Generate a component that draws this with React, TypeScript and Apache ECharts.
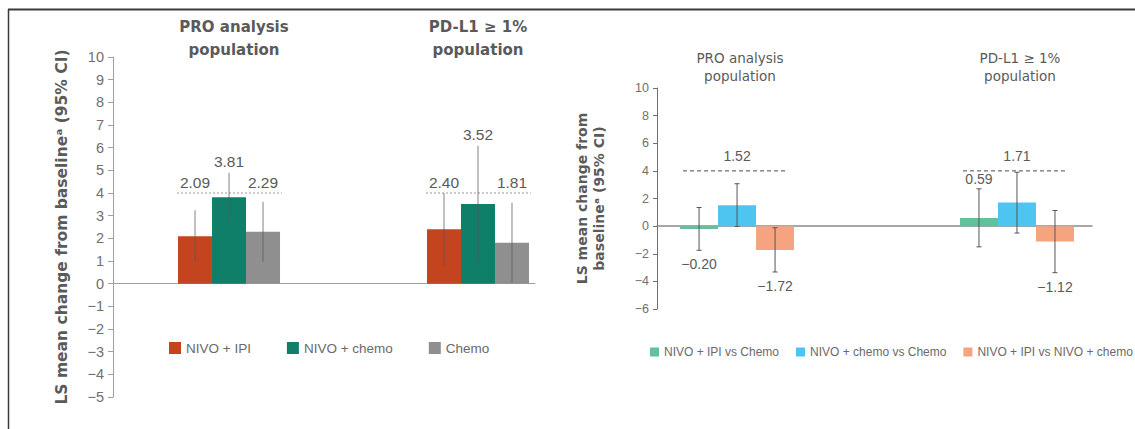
import React, { useEffect, useRef } from "react";
import * as echarts from "echarts";

// Population groups shown in both panels
const groupTitles = ["PRO analysis\npopulation", "PD-L1 ≥ 1%\npopulation"];

// Left panel: LS mean change from baseline per arm (one value per group)
const armNames = ["NIVO + IPI", "NIVO + chemo", "Chemo"];
const armColors = ["#C4441F", "#0F7F69", "#8F8F8F"];
const armMeans = [
  [2.09, 2.4],
  [3.81, 3.52],
  [2.29, 1.81],
];
const armLow = [
  [0.94, 0.8],
  [2.73, 0.96],
  [0.97, 0.05],
];
const armHigh = [
  [3.24, 4.0],
  [4.89, 6.08],
  [3.61, 3.57],
];

// Right panel: between-arm differences
const diffNames = ["NIVO + IPI vs Chemo", "NIVO + chemo vs Chemo", "NIVO + IPI vs NIVO + chemo"];
const diffColors = ["#62C19D", "#4EC4F1", "#F6A47F"];
const diffMeans = [
  [-0.2, 0.59],
  [1.52, 1.71],
  [-1.72, -1.12],
];
const diffLow = [
  [-1.75, -1.5],
  [-0.03, -0.5],
  [-3.32, -3.37],
];
const diffHigh = [
  [1.35, 2.7],
  [3.07, 3.9],
  [-0.12, 1.13],
];

// Meaningful-change threshold drawn as a dashed line
const threshold = 4;

const leftTicks = { min: -5, max: 10, interval: 1 };
const rightTicks = { min: -6, max: 10, interval: 2 };

const minus = (s: string) => s.replace(/-/g, "\u2212");
const fmt = (v: number) => minus(v.toFixed(2));

type BarOpts = {
  slot: number;
  barW: number;
  color: string;
  errColor: string;
  cap: number;
  aboveLine: boolean;
  labelSize: number;
  gapAbove: number;
  gapBelow: number;
};

function barRenderer(o: BarOpts) {
  return (params: any, api: any) => {
    const g = api.value(0);
    const v = api.value(1);
    const lo = api.value(2);
    const hi = api.value(3);
    const [cx, y0] = api.coord([g, 0]);
    const yv = api.coord([g, v])[1];
    const yLo = api.coord([g, lo])[1];
    const yHi = api.coord([g, hi])[1];
    const yLine = api.coord([g, threshold])[1];
    const left = cx - 1.5 * o.barW + o.slot * o.barW;
    const mid = left + o.barW / 2;
    const children: any[] = [
      {
        type: "rect",
        shape: { x: left, y: Math.min(y0, yv), width: o.barW, height: Math.abs(yv - y0) },
        style: { fill: o.color },
      },
      {
        type: "line",
        shape: { x1: mid, y1: yLo, x2: mid, y2: yHi },
        style: { stroke: o.errColor, lineWidth: 1 },
      },
    ];
    if (o.cap > 0) {
      [yLo, yHi].forEach((yy) =>
        children.push({
          type: "line",
          shape: { x1: mid - o.cap, y1: yy, x2: mid + o.cap, y2: yy },
          style: { stroke: o.errColor, lineWidth: 1 },
        })
      );
    }
    let ty: number;
    let va: string;
    if (v >= 0) {
      const anchor = o.aboveLine ? Math.min(yHi, yLine) : yHi;
      ty = anchor - o.gapAbove;
      va = "bottom";
    } else {
      ty = yLo + o.gapBelow;
      va = "top";
    }
    children.push({
      type: "text",
      x: mid,
      y: ty,
      style: {
        text: fmt(v),
        fill: "#5A5A5A",
        font: `${o.labelSize}px "Liberation Sans", Arial, sans-serif`,
        align: "center",
        verticalAlign: va,
      },
    });
    return { type: "group", children };
  };
}

function lineRenderer(barW: number, dash: number[], color: string, padL: number, padR: number) {
  return (params: any, api: any) => {
    const g = api.value(0);
    const [cx, y] = api.coord([g, threshold]);
    return {
      type: "line",
      shape: { x1: cx - 1.5 * barW + padL, y1: y, x2: cx + 1.5 * barW - padR, y2: y },
      style: { stroke: color, lineWidth: 1, lineDash: dash },
    };
  };
}

export default function App() {
  const ref = useRef<HTMLDivElement>(null);

  useEffect(() => {
    if (!ref.current) return;
    const chart = echarts.init(ref.current, undefined, { renderer: "svg" });

    const groupIdx = groupTitles.map((_, i) => i);
    const leftBarW = 34;
    const rightBarW = 38;

    const axisGray = "#A0A0A0";
    const nameStyle = (size: number) => ({
      fontFamily: '"DejaVu Sans", sans-serif',
      fontWeight: "bold" as const,
      fontSize: size,
      color: "#5A5A5A",
      lineHeight: 17,
    });

    const armSeries = armNames.map((name, k) => ({
      type: "custom" as const,
      name,
      xAxisIndex: 0,
      yAxisIndex: 0,
      itemStyle: { color: armColors[k] },
      encode: { x: 0, y: 1 },
      data: groupIdx.map((g) => [g, armMeans[k][g], armLow[k][g], armHigh[k][g]]),
      renderItem: barRenderer({
        slot: k,
        barW: leftBarW,
        color: armColors[k],
        errColor: "rgba(90,90,90,0.75)",
        cap: 0,
        aboveLine: true,
        labelSize: 15.5,
        gapAbove: 3,
        gapBelow: 5,
      }),
      z: 3,
    }));

    const diffSeries = diffNames.map((name, k) => ({
      type: "custom" as const,
      name,
      xAxisIndex: 1,
      yAxisIndex: 1,
      itemStyle: { color: diffColors[k] },
      encode: { x: 0, y: 1 },
      data: groupIdx.map((g) => [g, diffMeans[k][g], diffLow[k][g], diffHigh[k][g]]),
      renderItem: barRenderer({
        slot: k,
        barW: rightBarW,
        color: diffColors[k],
        errColor: "#555555",
        cap: 2.5,
        aboveLine: k === 1,
        labelSize: 14,
        gapAbove: k === 1 ? 8 : 3,
        gapBelow: 7,
      }),
      z: 3,
    }));

    const option: any = {
      animation: false,
      backgroundColor: "#FFFFFF",
      title: [
        ...groupTitles.map((t, i) => ({
          text: t,
          left: i === 0 ? 229 : 473,
          top: 10,
          textAlign: "center",
          textStyle: {
            fontFamily: '"DejaVu Sans", sans-serif',
            fontWeight: "bold",
            fontSize: 15,
            color: "#5A5A5A",
            lineHeight: 23,
          },
        })),
        ...groupTitles.map((t, i) => ({
          text: t,
          left: i === 0 ? 735 : 1015,
          top: 44,
          textAlign: "center",
          textStyle: {
            fontFamily: '"DejaVu Sans", sans-serif',
            fontWeight: "normal",
            fontSize: 13.5,
            color: "#5A5A5A",
            lineHeight: 18,
          },
        })),
      ],
      legend: [
        {
          data: armNames,
          left: 164,
          top: 336,
          icon: "rect",
          itemWidth: 12,
          itemHeight: 12,
          itemGap: 36,
          textStyle: { fontFamily: '"Liberation Sans", Arial, sans-serif', fontSize: 13.5, color: "#6A6A6A" },
          selectedMode: false,
        },
        {
          data: diffNames,
          left: 650,
          top: 346,
          width: 485,
          padding: 0,
          icon: "rect",
          itemWidth: 9,
          itemHeight: 9,
          itemGap: 17,
          textStyle: { fontFamily: '"Liberation Sans", Arial, sans-serif', fontSize: 12, color: "#6A6A6A" },
          selectedMode: false,
        },
      ],
      grid: [
        { left: 113, top: 57, width: 422, height: 340 },
        { left: 657, top: 88, width: 435, height: 221 },
      ],
      xAxis: [
        {
          type: "value",
          gridIndex: 0,
          min: -0.466,
          max: 1.229,
          axisLine: { show: true, onZero: true, lineStyle: { color: axisGray, width: 1 } },
          axisTick: { show: false },
          axisLabel: { show: false },
          splitLine: { show: false },
        },
        {
          type: "value",
          gridIndex: 1,
          min: -0.286,
          max: 1.268,
          axisLine: { show: true, onZero: true, lineStyle: { color: "#8A8A8A", width: 1.5 } },
          axisTick: { show: false },
          axisLabel: { show: false },
          splitLine: { show: false },
        },
      ],
      yAxis: [
        {
          type: "value",
          gridIndex: 0,
          ...leftTicks,
          name: "LS mean change from baseline\u1d43 (95% CI)",
          nameLocation: "middle",
          nameRotate: 90,
          nameGap: 43,
          nameTextStyle: nameStyle(15.5),
          axisLine: { show: true, onZero: false, lineStyle: { color: axisGray } },
          axisTick: { show: true, inside: false, length: 5, lineStyle: { color: axisGray } },
          axisLabel: {
            color: "#707070",
            fontSize: 14.5,
            fontFamily: '"Liberation Sans", Arial, sans-serif',
            margin: 9,
            formatter: (v: number) => minus(String(v)),
          },
          splitLine: { show: false },
        },
        {
          type: "value",
          gridIndex: 1,
          ...rightTicks,
          name: "LS mean change from\nbaseline\u1d43 (95% CI)",
          nameLocation: "middle",
          nameRotate: 90,
          nameGap: 50,
          nameTextStyle: nameStyle(14),
          axisLine: { show: true, onZero: false, lineStyle: { color: "#707070" } },
          axisTick: { show: true, inside: false, length: 4, lineStyle: { color: "#707070" } },
          axisLabel: {
            color: "#707070",
            fontSize: 12.5,
            fontFamily: '"Liberation Sans", Arial, sans-serif',
            margin: 8,
            formatter: (v: number) => minus(String(v)),
          },
          splitLine: { show: false },
        },
      ],
      series: [
        {
          type: "custom",
          xAxisIndex: 0,
          yAxisIndex: 0,
          data: groupIdx.map((g) => [g]),
          renderItem: lineRenderer(leftBarW, [2, 2], "#9A9A9A", -1, -2),
          silent: true,
          z: 2,
        },
        {
          type: "custom",
          xAxisIndex: 1,
          yAxisIndex: 1,
          data: groupIdx.map((g) => [g]),
          renderItem: lineRenderer(rightBarW, [4, 3], "#4A4A4A", 3, 8),
          silent: true,
          z: 2,
        },
        ...armSeries,
        ...diffSeries,
      ],
      graphic: [
        {
          type: "line",
          shape: { x1: 8, y1: 9.5, x2: 1135, y2: 9.5 },
          style: { stroke: "#3A3A3A", lineWidth: 2 },
        },
        {
          type: "line",
          shape: { x1: 8.5, y1: 9, x2: 8.5, y2: 429 },
          style: { stroke: "#3A3A3A", lineWidth: 1.5 },
        },
      ],
    };

    chart.setOption(option);
    return () => chart.dispose();
  }, []);

  return (
    <div
      ref={ref}
      style={{ position: "fixed", left: 0, top: 0, width: 1135, height: 429, background: "#fff" }}
    />
  );
}
